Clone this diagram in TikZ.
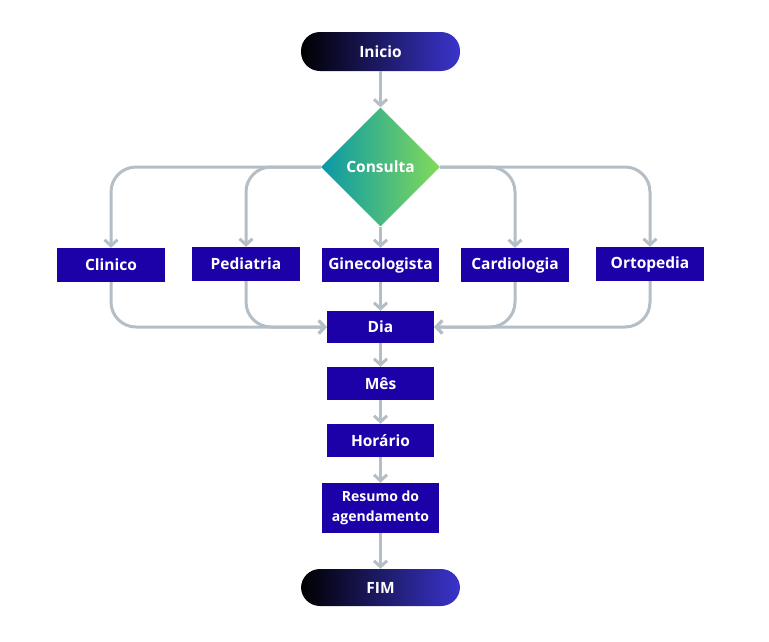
\documentclass[tikz,border=0pt]{standalone}
\usepackage{fontspec}
\setmainfont{Open Sans}
\usetikzlibrary{shapes.geometric,arrows.meta}
\definecolor{boxc}{HTML}{1C00A8}
\definecolor{linec}{HTML}{B4BEC6}
\definecolor{pillr}{HTML}{3A34CC}
\definecolor{teal}{HTML}{0A98A8}
\definecolor{lgreen}{HTML}{82DA5A}
\tikzset{
  lbl/.style={font=\fontsize{15.5}{18}\selectfont\bfseries},
  box/.style={lbl,fill=boxc,text=white,inner sep=0pt,minimum width=108pt,minimum height=34pt,align=center},
  pill/.style={lbl,left color=black,right color=pillr,rounded corners=19pt,text=white,inner sep=0pt,minimum width=159pt,minimum height=39pt},
  conn/.style={draw=linec,line width=3pt,rounded corners=25pt,-{Straight Barb[length=6pt,width=13pt,line width=3pt]}},
}
\begin{document}
\begin{tikzpicture}[x=1pt,y=-1pt]
\useasboundingbox (0,0) rectangle (769,641);
\node[pill] (ini) at (380.5,51.5) {Inicio};
\node[diamond,lbl,aspect=1,inner sep=0pt,minimum width=119pt,minimum height=119pt,left color=teal,right color=lgreen,text=white] (cons) at (380.5,167) {Consulta};
\node[box] (clin) at (111,265) {Clinico};
\node[box] (ped) at (246,264) {Pediatria};
\node[box,minimum width=117pt] (gin) at (380.5,265) {Ginecologista};
\node[box] (card) at (515,265) {Cardiologia};
\node[box] (orto) at (650,264) {Ortopedia};
\node[box,minimum width=107pt,minimum height=32pt] (dia) at (380.5,327) {Dia};
\node[box,minimum width=107pt,minimum height=33pt] (mes) at (380.5,383.5) {Mês};
\node[box,minimum width=107pt,minimum height=33pt] (hor) at (380.5,440.5) {Horário};
\node[box,minimum width=117pt,minimum height=50pt,font=\fontsize{14}{20}\selectfont\bfseries] (res) at (380.5,508) {Resumo do\\agendamento};
\node[pill,minimum height=37pt] (fim) at (380.5,587.5) {FIM};
\draw[conn] (ini.south) -- (cons.north);
\draw[conn] (cons.south) -- (gin.north);
\draw[conn] (gin.south) -- (dia.north);
\draw[conn] (dia.south) -- (mes.north);
\draw[conn] (mes.south) -- (hor.north);
\draw[conn] (hor.south) -- (res.north);
\draw[conn] (res.south) -- (fim.north);
\draw[conn] (cons.west) -| (clin.north);
\draw[conn] (cons.west) -| (ped.north);
\draw[conn] (cons.east) -| (card.north);
\draw[conn] (cons.east) -| (orto.north);
\draw[conn] (clin.south) |- (dia.west);
\draw[conn] (ped.south) |- (dia.west);
\draw[conn] (card.south) |- (dia.east);
\draw[conn] (orto.south) |- (dia.east);
\end{tikzpicture}
\end{document}
